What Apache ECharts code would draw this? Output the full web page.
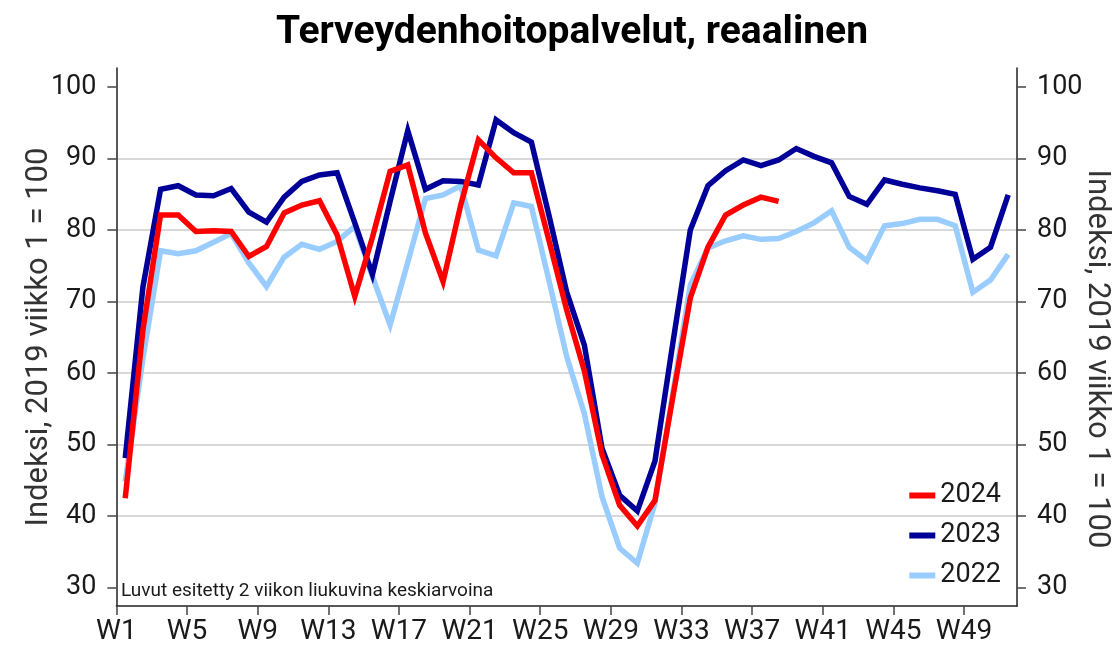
<!DOCTYPE html>
<html>
<head>
<meta charset="utf-8">
<title>Terveydenhoitopalvelut, reaalinen</title>
<script src="https://cdn.jsdelivr.net/npm/echarts@6/dist/echarts.min.js"></script>
<style>
    html, body { margin: 0; padding: 0; background: #fff; }
    #chart { width: 1116px; height: 647px; }
</style>
</head>
<body>
<div id="chart"></div>
<script>
    // viikot W1..W51
    var weeks = [];
    for (var w = 1; w <= 51; w++) {
        weeks.push('W' + w);
    }
    var weekTicks = [0, 4, 8, 12, 16, 20, 24, 28, 32, 36, 40, 44, 48]; // W1, W5, ... W49
    var yTicks = [30, 40, 50, 60, 70, 80, 90, 100];

    var values2024 = [42.5, 66.0, 82.1, 82.1, 79.8, 79.9, 79.8, 76.3, 77.7, 82.4,
        83.5, 84.1, 79.3, 70.7, 79.0, 88.2, 89.1, 79.6, 72.8, 83.5,
        92.6, 90.1, 88.0, 88.0, 78.5, 68.8, 60.3, 48.6, 41.5, 38.6,
        42.2, 56.5, 70.5, 77.6, 82.1, 83.5, 84.6, 84.0];
    var values2023 = [48.1, 72.0, 85.7, 86.2, 84.9, 84.8, 85.8, 82.5, 81.1, 84.6,
        86.8, 87.7, 88.0, 81.0, 73.8, 84.0, 93.9, 85.7, 86.9, 86.8,
        86.3, 95.4, 93.6, 92.3, 82.0, 71.3, 63.9, 49.5, 42.9, 40.7,
        47.7, 64.0, 80.0, 86.2, 88.3, 89.8, 89.0, 89.8, 91.4, 90.3,
        89.4, 84.7, 83.6, 87.0, 86.4, 85.9, 85.5, 85.0, 75.9, 77.6, 84.9];
    var values2022 = [44.8, 62.0, 77.1, 76.7, 77.1, 78.3, 79.5, 75.4, 72.1, 76.2,
        78.0, 77.3, 78.4, 80.5, 73.5, 66.7, 75.5, 84.4, 84.9, 86.2,
        77.2, 76.4, 83.8, 83.3, 72.9, 62.3, 54.3, 42.7, 35.5, 33.4,
        41.8, 57.0, 72.3, 77.5, 78.5, 79.2, 78.7, 78.8, 79.8, 81.0,
        82.7, 77.6, 75.7, 80.6, 80.9, 81.5, 81.5, 80.6, 71.3, 73.0, 76.6];

    var FONT = 'Roboto';
    var TEXT = '#1a1a1a';

    /**
     * viikkoarvot -> [x, y], x on viikon keskikohta
     */
    function toPoints(arr) {
        var pts = [];
        for (var i = 0; i < arr.length; i++) {
            pts.push([i + 0.5, arr[i]]);
        }
        return pts;
    }

    function yAxisFor(side) {
        return {
            type: 'value',
            position: side,
            min: 27.42,
            max: 102.66,
            name: 'Indeksi, 2019 viikko 1 = 100',
            nameLocation: 'middle',
            nameGap: side === 'left' ? 62 : 64,
            nameRotate: side === 'left' ? 90 : -90,
            nameMoveOverlap: false,
            nameTextStyle: {
                fontFamily: FONT,
                fontSize: 31,
                color: '#333',
                padding: side === 'left' ? [0, 0, 0, 0] : [0, 0, 0, 44]
            },
            axisLine: { show: true, lineStyle: { color: '#222', width: 1.5 } },
            axisTick: { show: true, length: 9, customValues: yTicks, lineStyle: { color: '#444', width: 1.5 } },
            axisLabel: {
                customValues: yTicks,
                margin: 20,
                fontFamily: FONT,
                fontSize: 27,
                color: TEXT
            },
            splitLine: {
                show: side === 'left',
                showMinLine: false,
                showMaxLine: false,
                lineStyle: { color: '#cccccc', width: 1.5 }
            }
        };
    }

    var chart = echarts.init(document.getElementById('chart'));
    var option = {
        animation: false,
        backgroundColor: '#fff',
        title: [{
            text: 'Terveydenhoitopalvelut, reaalinen',
            left: 567,
            textAlign: 'center',
            top: 9,
            textStyle: { fontFamily: FONT, fontSize: 39, fontWeight: 'bold', color: '#000' }
        }, {
            text: 'Luvut esitetty 2 viikon liukuvina keskiarvoina',
            left: 116,
            top: 577,
            textStyle: { fontFamily: FONT, fontSize: 19, fontWeight: 'normal', color: TEXT }
        }],
        grid: { left: 116.4, right: 99, top: 68, bottom: 41, outerBoundsMode: 'none', containLabel: false },
        legend: {
            orient: 'vertical',
            right: 110,
            top: 477,
            itemWidth: 26,
            itemHeight: 6,
            itemGap: 13,
            icon: 'rect',
            data: ['2024', '2023', '2022'],
            textStyle: { fontFamily: FONT, fontSize: 27, color: TEXT }
        },
        xAxis: {
            type: 'value',
            min: 0,
            max: weeks.length,
            axisLine: { show: true, lineStyle: { color: '#222', width: 1.5 } },
            axisTick: { show: true, length: 9, customValues: weekTicks, lineStyle: { color: '#444', width: 1.5 } },
            axisLabel: {
                customValues: weekTicks,
                margin: 12,
                fontFamily: FONT,
                fontSize: 28,
                color: TEXT,
                formatter: function (v) { return weeks[Math.round(v)] || ''; }
            },
            splitLine: { show: false }
        },
        yAxis: [yAxisFor('left'), yAxisFor('right')],
        series: [{
            name: '2022',
            type: 'line',
            data: toPoints(values2022),
            showSymbol: false,
            color: '#99ccff',
            lineStyle: { width: 5.5, color: '#99ccff', join: 'miter' }
        }, {
            name: '2023',
            type: 'line',
            data: toPoints(values2023),
            showSymbol: false,
            color: '#000099',
            lineStyle: { width: 5.5, color: '#000099', join: 'miter' }
        }, {
            name: '2024',
            type: 'line',
            data: toPoints(values2024),
            showSymbol: false,
            color: '#ff0000',
            lineStyle: { width: 5.5, color: '#ff0000', join: 'miter' }
        }]
    };
    chart.setOption(option);
</script>
</body>
</html>
